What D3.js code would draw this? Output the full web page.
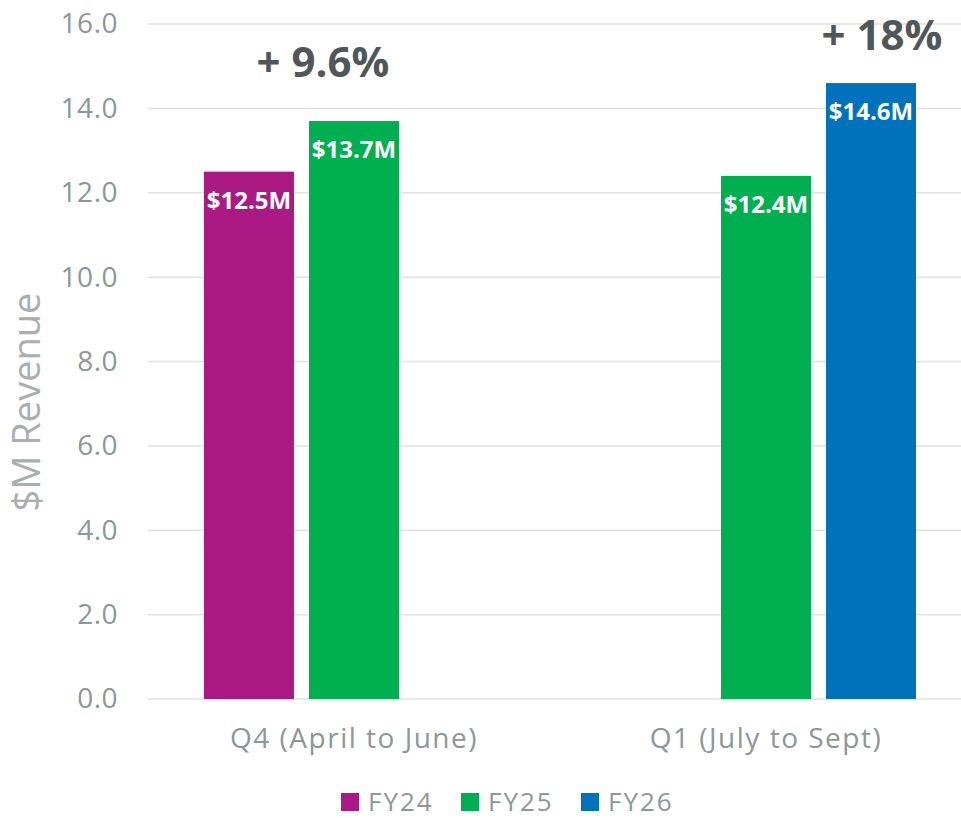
<!DOCTYPE html>
<html>
<head>
<meta charset="utf-8">
<script src="https://d3js.org/d3.v7.min.js"></script>
<style>
  body { margin: 0; background: #fff; }
  text { font-family: "Open Sans", "Noto Sans", sans-serif; }
</style>
</head>
<body>
<div id="chart"></div>
<script>
// data
var categories = ["Q4 (April to June)", "Q1 (July to Sept)"];
var seriesNames = ["FY24", "FY25", "FY26"];
var fy24 = [12.5, null];
var fy25 = [13.7, 12.4];
var fy26 = [null, 14.6];
var valueLabels = { FY24: ["$12.5M", null], FY25: ["$13.7M", "$12.4M"], FY26: [null, "$14.6M"] };
var growthLabels = ["+ 9.6%", "+ 18%"];
var growthSeries = ["FY25", "FY26"];   // bar each growth label sits over
var yTicks = [0, 2, 4, 6, 8, 10, 12, 14, 16];

var seriesValues = { FY24: fy24, FY25: fy25, FY26: fy26 };
var colors = { FY24: "#ab1a84", FY25: "#00af4f", FY26: "#0071bb" };

var width = 961, height = 818;
var svg = d3.select("#chart").append("svg")
    .attr("width", width)
    .attr("height", height);

// scales
var x0 = d3.scaleBand()
    .domain(categories)
    .range([148, 972])
    .padding(0);

var x1 = d3.scaleBand()
    .domain(seriesNames)
    .range([0, x0.bandwidth()])
    .paddingInner(0.143)
    .paddingOuter(0.533);

var y = d3.scaleLinear()
    .domain([0, 16])
    .range([699, 24]);

// gridlines
svg.append("g")
  .selectAll("line")
  .data(yTicks)
  .enter()
  .append("line")
    .attr("x1", 148)
    .attr("x2", width)
    .attr("y1", function(d) { return y(d); })
    .attr("y2", function(d) { return y(d); })
    .style("stroke", "#e1e1e1")
    .style("stroke-width", 1.5);

// y axis
var yAxis = svg.append("g")
    .attr("transform", "translate(148,0)")
    .call(d3.axisLeft(y)
        .tickValues(yTicks)
        .tickFormat(d3.format(".1f"))
        .tickSize(0)
        .tickPadding(30));
yAxis.select(".domain").remove();
yAxis.selectAll("text")
    .style("font-size", "28px")
    .style("letter-spacing", "0.5px")
    .style("fill", "#8c9797");

// x axis
var xAxis = svg.append("g")
    .attr("transform", "translate(0,699)")
    .call(d3.axisBottom(x0)
        .tickSize(0)
        .tickPadding(29));
xAxis.select(".domain").remove();
xAxis.selectAll("text")
    .style("font-size", "28px")
    .style("letter-spacing", "1.5px")
    .style("fill", "#8c9797");

// y axis title
svg.append("text")
    .attr("transform", "translate(40,402) rotate(-90)")
    .attr("text-anchor", "middle")
    .style("font-size", "38px")
    .style("fill", "#a9afaf")
    .text("$M Revenue");

// bars
var barData = [];
categories.forEach(function(c, i) {
  seriesNames.forEach(function(s) {
    var v = seriesValues[s][i];
    if (v != null) barData.push({ cat: c, idx: i, series: s, value: v, label: valueLabels[s][i] });
  });
});

svg.append("g")
  .selectAll("rect")
  .data(barData)
  .enter()
  .append("rect")
    .attr("x", function(d) { return x0(d.cat) + x1(d.series); })
    .attr("y", function(d) { return y(d.value); })
    .attr("width", x1.bandwidth())
    .attr("height", function(d) { return y(0) - y(d.value); })
    .style("fill", function(d) { return colors[d.series]; });

// value labels inside bar ends
svg.append("g")
  .selectAll("text")
  .data(barData)
  .enter()
  .append("text")
    .attr("x", function(d) { return x0(d.cat) + x1(d.series) + x1.bandwidth() / 2; })
    .attr("y", function(d) { return y(d.value) + 37; })
    .attr("text-anchor", "middle")
    .style("font-size", "24px")
    .style("font-weight", "bold")
    .style("fill", "#ffffff")
    .text(function(d) { return d.label; });

// growth annotations (hand-placed text boxes in the original)
var nudgeX = [-31, 11], nudgeY = [-44, -33];
svg.append("g")
  .selectAll("text")
  .data(growthLabels)
  .enter()
  .append("text")
    .attr("x", function(d, i) { return x0(categories[i]) + x1(growthSeries[i]) + x1.bandwidth() / 2 + nudgeX[i]; })
    .attr("y", function(d, i) { return y(seriesValues[growthSeries[i]][i]) + nudgeY[i]; })
    .attr("text-anchor", "middle")
    .style("font-size", "42px")
    .style("font-weight", "bold")
    .style("fill", "#50575a")
    .text(function(d) { return d; });

// legend
var legend = svg.append("g")
  .selectAll("g")
  .data(seriesNames)
  .enter()
  .append("g")
    .attr("transform", function(d, i) { return "translate(" + (341 + i * 120) + ",793)"; });
legend.append("rect")
    .attr("width", 18)
    .attr("height", 18)
    .style("fill", function(d) { return colors[d]; });
legend.append("text")
    .attr("x", 27)
    .attr("y", 18)
    .style("font-size", "26px")
    .style("letter-spacing", "2px")
    .style("fill", "#8c9797")
    .text(function(d) { return d; });
</script>
</body>
</html>
